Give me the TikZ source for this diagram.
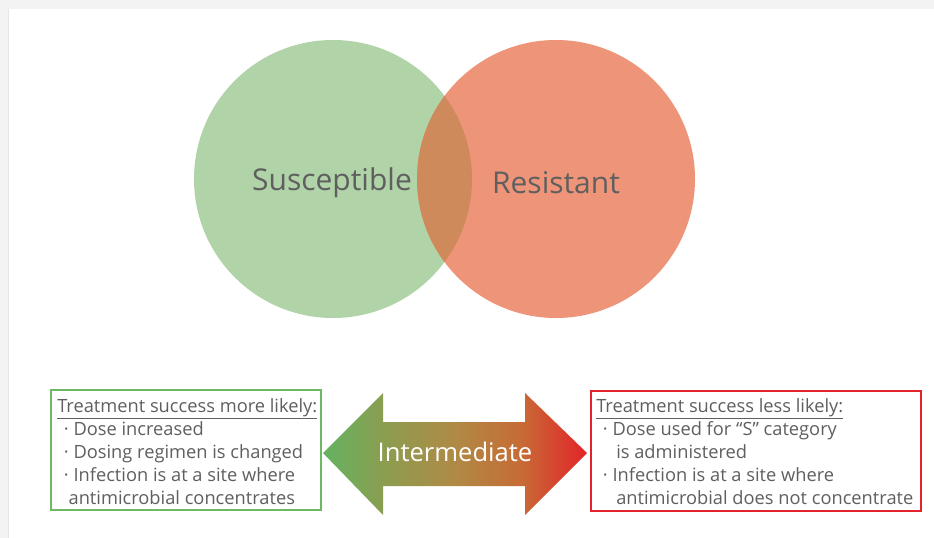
\documentclass[tikz,border=0pt]{standalone}
\usepackage{fontspec}
\setmainfont{Open Sans}
\usetikzlibrary{shapes.geometric}
\definecolor{bgray}{HTML}{F3F3F3}
\definecolor{edgegray}{HTML}{E6E6E6}
\definecolor{susc}{HTML}{B0D3A8}
\definecolor{resi}{HTML}{EE9579}
\definecolor{overl}{HTML}{CF8A5B}
\definecolor{txtgray}{HTML}{5F5F5F}
\definecolor{boxgreen}{HTML}{6CB863}
\definecolor{boxred}{HTML}{E3222B}
\pgfdeclarehorizontalshading{arrowgrad}{100bp}{%
  rgb(0bp)=(0.39,0.70,0.38);
  rgb(25bp)=(0.39,0.70,0.38);
  rgb(37.5bp)=(0.56,0.61,0.31);
  rgb(50bp)=(0.69,0.54,0.27);
  rgb(62.5bp)=(0.78,0.42,0.21);
  rgb(75bp)=(0.89,0.14,0.16);
  rgb(100bp)=(0.89,0.14,0.16)}
\tikzset{
  venn/.style={circle, minimum size=208.5pt, inner sep=0pt},
  vennlabel/.style={text=txtgray, font=\fontsize{22.5}{26}\selectfont},
  infobox/.style={rectangle, line width=1.5pt, inner sep=0pt, anchor=north west},
  infotext/.style={text=txtgray, anchor=north west, align=left, inner sep=0pt,
    font=\fontsize{13.7}{17.25}\selectfont},
  midlabel/.style={text=white, font=\fontsize{19.2}{22}\selectfont}
}
\begin{document}
\begin{tikzpicture}[x=0.75pt, y=-0.75pt]
\useasboundingbox (0,0) rectangle (934,538);
\fill[bgray] (0,0) rectangle (934,538);
\fill[white] (8,9) rectangle (934,538);
\draw[edgegray, line width=0.75pt] (8,9) -- (8,538);
% Venn circles
\node[venn, fill=susc] (sc) at (333,179) {};
\node[venn, fill=resi] (rc) at (556,179) {};
\begin{scope}
  \clip (333,179) circle (139);
  \fill[overl] (556,179) circle (139);
\end{scope}
\node[vennlabel] (sl) at (332,183) {Susceptible};
\node[vennlabel] (rl) at (556,183) {Resistant};
% Boxes
\node[infobox, draw=boxgreen, minimum width=202.5pt, minimum height=90pt] (lbox) at (50,389) {};
\node[infobox, draw=boxred, minimum width=247.5pt, minimum height=90pt] (rbox) at (590,390) {};
\node[infotext] (ltext) at (57,398) {\underline{Treatment success more likely:}\\
\hspace*{5pt}\textperiodcentered\ Dose increased\\
\hspace*{5pt}\textperiodcentered\ Dosing regimen is changed\\
\hspace*{5pt}\textperiodcentered\ Infection is at a site where\\
\hspace*{8.5pt}antimicrobial concentrates};
\node[infotext] (rtext) at (596,398) {\underline{Treatment success less likely:}\\
\hspace*{5pt}\textperiodcentered\ Dose used for \char"201C S\char"201D\ category\\
\hspace*{15pt}is administered\\
\hspace*{5pt}\textperiodcentered\ Infection is at a site where\\
\hspace*{15pt}antimicrobial does not concentrate};
% Double arrow
\shade[shading=arrowgrad]
  (323,453) -- (383,393) -- (383,422) -- (525,422) -- (525,393) -- (587,453)
  -- (525,515) -- (525,486) -- (383,486) -- (383,515) -- cycle;
\node[midlabel] (mid) at (455,452) {Intermediate};
\end{tikzpicture}
\end{document}
